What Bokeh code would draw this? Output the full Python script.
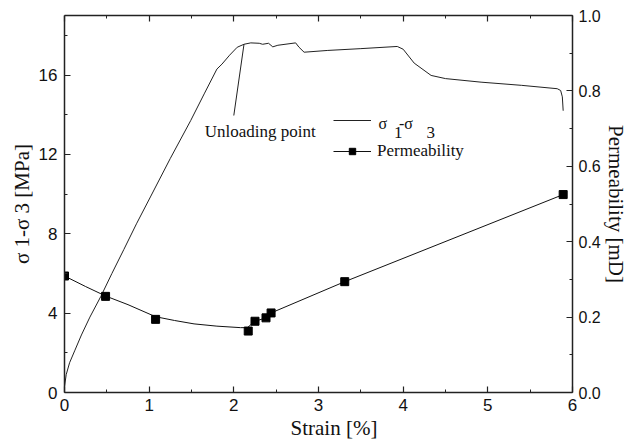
import math
from bokeh.plotting import figure
from bokeh.models import (Range1d, LinearAxis, FixedTicker, Label, Arrow, Legend, Title,
                          LegendItem, CustomJSTickFormatter, NumeralTickFormatter)
from bokeh.core.properties import value
from bokeh.embed import file_html
from bokeh.resources import INLINE

# ---------------- data ----------------
stress_strain = [0.0, 0.02, 0.06, 0.12, 0.20, 0.30, 0.43, 0.56, 0.70, 0.85, 1.02, 1.25,
                 1.49, 1.65, 1.80, 1.86, 1.95, 2.04, 2.12, 2.20, 2.30, 2.34, 2.41, 2.46,
                 2.52, 2.73, 2.77, 2.83, 3.11, 3.50, 3.93, 4.00, 4.13, 4.33, 4.50, 4.92,
                 5.40, 5.82, 5.86, 5.88, 5.89]
stress_mpa = [0.3, 0.9, 1.5, 2.1, 2.9, 3.8, 4.85, 6.0, 7.2, 8.5, 9.9, 11.8,
              13.7, 15.05, 16.3, 16.55, 17.0, 17.4, 17.55, 17.62, 17.6, 17.55, 17.6, 17.42,
              17.5, 17.62, 17.4, 17.15, 17.24, 17.33, 17.44, 17.3, 16.6, 15.98, 15.82, 15.64,
              15.48, 15.31, 15.22, 14.9, 14.2]

perm_strain = [0.0, 0.485, 1.076, 2.17, 2.25, 2.38, 2.44, 3.31, 5.89]
perm_md = [0.309, 0.255, 0.194, 0.163, 0.189, 0.198, 0.211, 0.294, 0.525]

fit_strain = [0.0, 0.25, 0.485, 0.75, 1.076, 1.30, 1.53, 1.80, 2.08, 2.16,
              2.25, 2.38, 2.44, 3.31, 5.89]
fit_md = [0.309, 0.281, 0.256, 0.233, 0.201, 0.191, 0.182, 0.176, 0.172, 0.172,
          0.189, 0.198, 0.211, 0.294, 0.525]

unloading_strain = 2.12
unloading_stress = 17.55

x_ticks = [0, 1, 2, 3, 4, 5, 6]
x_minor = [0.5, 1.5, 2.5, 3.5, 4.5, 5.5]
y_ticks = [0, 4, 8, 12, 16]
y_minor = [2, 6, 10, 14, 18]
perm_ticks = [0.0, 0.2, 0.4, 0.6, 0.8, 1.0]
perm_minor = [0.1, 0.3, 0.5, 0.7, 0.9]

x_title = "Strain  [%]"
y_title = "σ 1-σ 3 [MPa]"
y2_title = "Permeability [mD]"

# ---------------- layout ----------------
W, H = 631, 442
FL, FR, FT, FB = 64, 572, 15, 392
X0, X1 = 0, 6
Y0, Y1 = 0, 19


def dx(px):
    return X0 + (px - FL) * (X1 - X0) / (FR - FL)


def dy(py):
    return Y0 + (FB - py) * (Y1 - Y0) / (FB - FT)


p = figure(width=W, height=H, x_range=Range1d(X0, X1), y_range=Range1d(Y0, Y1),
           output_backend="svg", toolbar_location=None,
           x_axis_location=None, y_axis_location=None,
           min_border_left=FL, min_border_right=W - FR,
           min_border_top=FT, min_border_bottom=H - FB)
p.extra_y_ranges = {"perm": Range1d(0, 1)}
p.outline_line_color = None
p.background_fill_color = "white"
p.border_fill_color = "white"
for g in p.grid:
    g.visible = False

AX = "#222222"
SERIF = "Liberation Serif"


def style(ax):
    ax.axis_line_color = AX
    ax.axis_line_width = 1.5
    ax.major_tick_line_color = AX
    ax.minor_tick_line_color = AX
    ax.major_tick_line_width = 1.2
    ax.minor_tick_line_width = 1.0
    ax.major_tick_in = 6
    ax.major_tick_out = 0
    ax.minor_tick_in = 3
    ax.minor_tick_out = 0
    ax.major_label_text_font = "Liberation Sans"
    ax.major_label_text_font_size = "17px"
    ax.major_label_text_color = "#111111"
    ax.axis_label_text_font = SERIF
    ax.axis_label_text_font_size = "21px"
    ax.axis_label_text_font_style = "normal"
    ax.axis_label_text_color = "#111111"


bottom = LinearAxis(ticker=FixedTicker(ticks=x_ticks, minor_ticks=x_minor))
style(bottom)
bottom.major_label_standoff = 6
p.add_layout(bottom, "below")

# x-axis title sits a little right of centre in the reference
p.add_layout(Title(text=x_title, align="left", offset=226, standoff=0,
                   text_font=SERIF, text_font_size="21px", text_font_style="normal",
                   text_color="#111111"), "below")

top = LinearAxis(ticker=FixedTicker(ticks=x_ticks, minor_ticks=x_minor),
                 formatter=CustomJSTickFormatter(code="return ''"))
style(top)
top.major_label_standoff = 0
top.major_label_text_font_size = "1px"
p.add_layout(top, "above")

left = LinearAxis(ticker=FixedTicker(ticks=y_ticks, minor_ticks=y_minor), axis_label=y_title)
style(left)
left.major_label_standoff = 7
left.axis_label_standoff = 2
p.add_layout(left, "left")

right = LinearAxis(y_range_name="perm",
                   ticker=FixedTicker(ticks=perm_ticks, minor_ticks=perm_minor),
                   formatter=NumeralTickFormatter(format="0.0"), axis_label=y2_title)
style(right)
right.major_label_text_font_size = "16px"
right.major_label_standoff = 6
right.axis_label_standoff = 0
p.add_layout(right, "right")

# ---------------- data renderers ----------------
stress_r = p.line(stress_strain, stress_mpa, line_color="#222222", line_width=1)
perm_line = p.line(fit_strain, fit_md, y_range_name="perm", line_color="#111111", line_width=1)
perm_sq = p.scatter(perm_strain, perm_md, y_range_name="perm", marker="square", size=8,
                    fill_color="black", line_color="black")

# ---------------- annotation ----------------
p.add_layout(Arrow(end=None, x_start=dx(233.3), y_start=dy(115),
                   x_end=unloading_strain, y_end=unloading_stress,
                   line_color="#222222", line_width=1))


def lab(text, px, py, size, angle=0.0, align="left", baseline="alphabetic"):
    p.add_layout(Label(x=dx(px), y=dy(py), text=text, text_font=SERIF,
                       text_font_size=f"{size}px", text_color="#111111",
                       angle=angle, text_align=align, text_baseline=baseline))


lab("Unloading point", 204.3, 130.7, 17)

# legend (glyph samples via Bokeh Legend); location = bottom-left corner in frame pixels
legend = Legend(items=[LegendItem(label=value(" "), renderers=[stress_r]),
                       LegendItem(label=value("Permeability"), renderers=[perm_line, perm_sq])],
                location=(269, 231), orientation="vertical",
                glyph_width=38, glyph_height=16, label_height=16, label_standoff=6,
                spacing=13, padding=0, margin=0,
                border_line_color=None, background_fill_alpha=0,
                label_text_font=SERIF, label_text_font_size="17px", label_text_color="#111111")
p.add_layout(legend, "center")

# legend label sigma_1 - sigma_3 with raised sigmas
lab("σ", 378, 123.3, 16)
lab("1", 393.5, 131.7, 17)
lab("-σ", 398.5, 123.3, 16)
lab("3", 426, 131.7, 17)

open("out.html", "w").write(file_html(p, INLINE))
